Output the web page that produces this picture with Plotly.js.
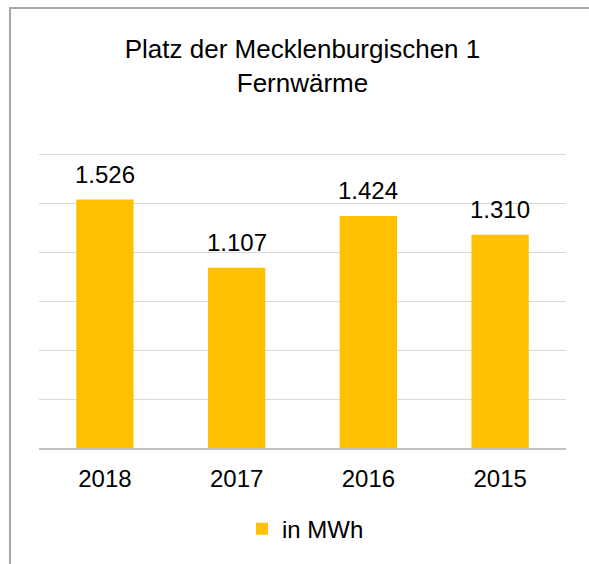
<!DOCTYPE html>
<html>
<head>
<meta charset="utf-8">
<script src="https://cdn.plot.ly/plotly-3.0.1.min.js"></script>
<style>
html,body{margin:0;padding:0;background:#fff;}
#wrap{position:relative;width:589px;height:564px;overflow:hidden;}
#chart{position:absolute;left:0;top:0;width:589px;height:564px;}
#frame{position:absolute;left:9px;top:7px;width:600px;height:600px;border-left:2px solid #a6a6a6;border-top:2px solid #a6a6a6;pointer-events:none;}
</style>
</head>
<body>
<div id="wrap">
<div id="chart"></div>
<div id="frame"></div>
</div>
<script>
var categories = ["2018", "2017", "2016", "2015"];
var values = [1526, 1107, 1424, 1310];
var seriesName = "in MWh";
var chartTitle = "Platz der Mecklenburgischen 1<br>Fernwärme";

function fmtDE(v) {
  return String(Math.round(v)).replace(/\B(?=(\d{3})+(?!\d))/g, ".");
}

var FONT = "Liberation Sans, Arial, sans-serif";

var trace = {
  type: "bar",
  x: categories,
  y: values,
  name: seriesName,
  marker: {color: "#FFC000"},
  showlegend: true
};

var annotations = categories.map(function (c, i) {
  return {
    x: i, y: values[i], xref: "x", yref: "y",
    text: fmtDE(values[i]),
    showarrow: false,
    yanchor: "bottom",
    yshift: 10,
    font: {family: FONT, size: 24, color: "#000"}
  };
});

var layout = {
  width: 589,
  height: 564,
  margin: {l: 39, r: 23, t: 150, b: 111, pad: 0},
  paper_bgcolor: "#fff",
  plot_bgcolor: "#fff",
  bargap: 0.565,
  title: {
    text: chartTitle,
    font: {family: FONT, size: 26, color: "#000"},
    xref: "paper", x: 0.5, xanchor: "center",
    yref: "container", y: 1 - 58 / 564, yanchor: "top"
  },
  xaxis: {
    type: "category",
    range: [-0.5, 3.5],
    showgrid: false,
    showline: true,
    linecolor: "#bfbfbf",
    linewidth: 1.5,
    ticks: "",
    ticklabelstandoff: 8,
    tickfont: {family: FONT, size: 24, color: "#000"}
  },
  yaxis: {
    range: [0, 1830],
    dtick: 300,
    tick0: 0,
    showgrid: true,
    gridcolor: "#d9d9d9",
    gridwidth: 1,
    zeroline: false,
    showticklabels: false,
    ticks: ""
  },
  showlegend: true,
  legend: {
    orientation: "h",
    x: (242 - 39) / 527, xanchor: "left",
    y: -(535.5 - 453) / 303, yanchor: "middle",
    bgcolor: "rgba(0,0,0,0)",
    font: {family: FONT, size: 24, color: "#000"}
  },
  annotations: annotations
};

Plotly.newPlot("chart", [trace], layout, {displayModeBar: false});
</script>
</body>
</html>
